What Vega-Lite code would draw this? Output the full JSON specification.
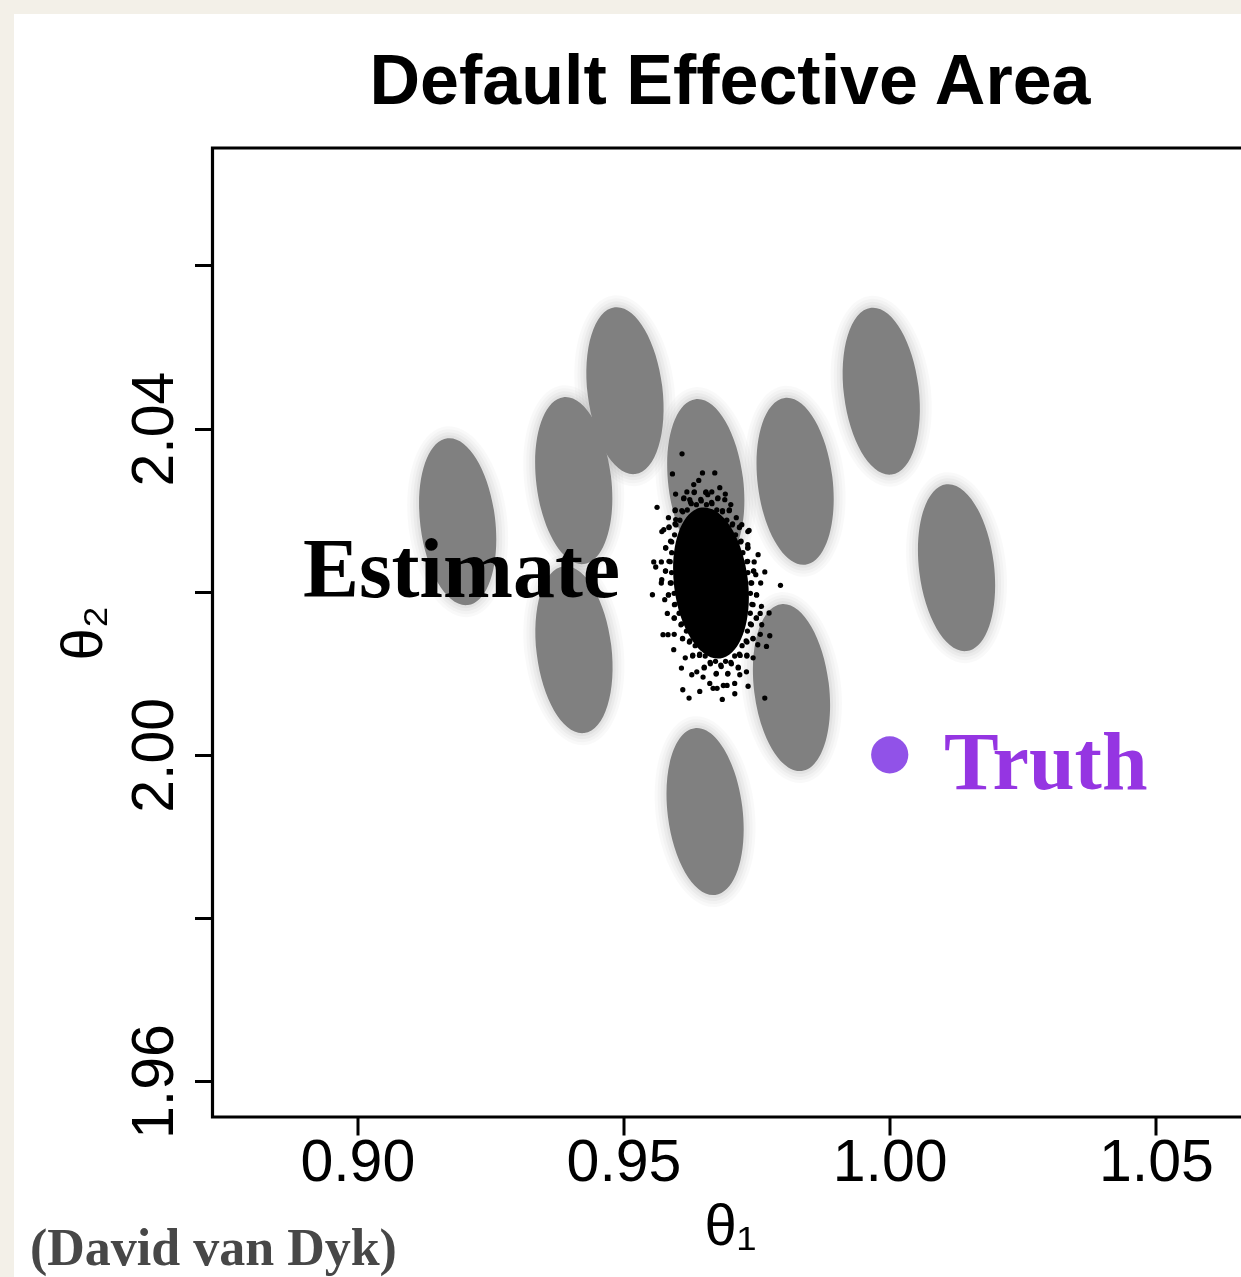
{
  "$schema": "https://vega.github.io/schema/vega-lite/v6.json",
  "width": 1035,
  "height": 969,
  "autosize": {"type": "none"},
  "padding": {"left": 212.5, "top": 148, "right": 0, "bottom": 160},
  "background": "white",
  "config": {
    "view": {"stroke": "black", "strokeWidth": 3.2, "fill": "white"},
    "axis": {"grid": false, "domain": false, "tickColor": "black", "tickWidth": 3, "tickSize": 18, "labelFont": "Liberation Sans", "labelFontSize": 59, "labelColor": "black", "labelOverlap": false, "labelFlush": false, "titleFont": "Liberation Sans", "titleFontSize": 58, "titleFontWeight": "normal", "titleColor": "black"}
  },
  "datasets": {
    "ellipses": [
      {"x": 0.91885, "y": 2.02859},
      {"x": 0.94065, "y": 2.03362},
      {"x": 0.95028, "y": 2.04464},
      {"x": 0.96545, "y": 2.03338},
      {"x": 0.98223, "y": 2.03354},
      {"x": 0.99842, "y": 2.04458},
      {"x": 1.01255, "y": 2.02295},
      {"x": 0.94070, "y": 2.01289},
      {"x": 0.98155, "y": 2.00825},
      {"x": 0.96532, "y": 1.99304}
    ],
    "core": [{"x": 0.96643, "y": 2.02107}],
    "truth": [{"x": 1.0, "y": 2.0}],
    "cloud": [
      {"x":0.97383,"y":2.01980},{"x":0.97381,"y":2.01736},{"x":0.97327,"y":2.01517},{"x":0.97227,"y":2.01338},
      {"x":0.97088,"y":2.01212},{"x":0.96917,"y":2.01147},{"x":0.96728,"y":2.01147},{"x":0.96534,"y":2.01212},
      {"x":0.96346,"y":2.01338},{"x":0.96181,"y":2.01517},{"x":0.96044,"y":2.01736},{"x":0.95950,"y":2.01980},
      {"x":0.95903,"y":2.02235},{"x":0.95905,"y":2.02479},{"x":0.95959,"y":2.02697},{"x":0.96059,"y":2.02876},
      {"x":0.96198,"y":2.03002},{"x":0.96369,"y":2.03067},{"x":0.96558,"y":2.03067},{"x":0.96752,"y":2.03002},
      {"x":0.96940,"y":2.02876},{"x":0.97105,"y":2.02697},{"x":0.97242,"y":2.02479},{"x":0.97336,"y":2.02235},
      {"x":0.97392,"y":2.02107},{"x":0.97411,"y":2.01846},{"x":0.97383,"y":2.01604},{"x":0.97303,"y":2.01396},
      {"x":0.97176,"y":2.01235},{"x":0.97016,"y":2.01135},{"x":0.96827,"y":2.01101},{"x":0.96627,"y":2.01135},
      {"x":0.96430,"y":2.01235},{"x":0.96246,"y":2.01396},{"x":0.96091,"y":2.01604},{"x":0.95969,"y":2.01846},
      {"x":0.95897,"y":2.02107},{"x":0.95877,"y":2.02368},{"x":0.95905,"y":2.02610},{"x":0.95985,"y":2.02819},
      {"x":0.96113,"y":2.02980},{"x":0.96273,"y":2.03080},{"x":0.96460,"y":2.03113},{"x":0.96661,"y":2.03080},
      {"x":0.96858,"y":2.02980},{"x":0.97041,"y":2.02819},{"x":0.97197,"y":2.02610},{"x":0.97318,"y":2.02368},
      {"x":0.97500,"y":2.01961},{"x":0.97495,"y":2.01676},{"x":0.97433,"y":2.01422},{"x":0.97316,"y":2.01212},
      {"x":0.97154,"y":2.01066},{"x":0.96957,"y":2.00990},{"x":0.96739,"y":2.00990},{"x":0.96514,"y":2.01066},
      {"x":0.96298,"y":2.01212},{"x":0.96108,"y":2.01422},{"x":0.95951,"y":2.01676},{"x":0.95843,"y":2.01961},
      {"x":0.95789,"y":2.02254},{"x":0.95792,"y":2.02539},{"x":0.95855,"y":2.02794},{"x":0.95971,"y":2.03002},
      {"x":0.96134,"y":2.03149},{"x":0.96330,"y":2.03225},{"x":0.96549,"y":2.03225},{"x":0.96773,"y":2.03149},
      {"x":0.96989,"y":2.03002},{"x":0.97180,"y":2.02794},{"x":0.97338,"y":2.02539},{"x":0.97446,"y":2.02254},
      {"x":0.97577,"y":2.02107},{"x":0.97569,"y":2.01478},{"x":0.97309,"y":2.01018},{"x":0.96875,"y":2.00850},
      {"x":0.96376,"y":2.01018},{"x":0.95952,"y":2.01478},{"x":0.95710,"y":2.02107},{"x":0.95720,"y":2.02737},
      {"x":0.95978,"y":2.03197},{"x":0.96413,"y":2.03365},{"x":0.96912,"y":2.03197},{"x":0.97335,"y":2.02737},
      {"x":0.97567,"y":2.01734},{"x":0.97088,"y":2.00875},{"x":0.96160,"y":2.01190},{"x":0.95711,"y":2.02365},
      {"x":0.96190,"y":2.03224},{"x":0.97118,"y":2.02908},{"x":0.97434,"y":2.01190},{"x":0.95823,"y":2.01734},
      {"x":0.96658,"y":2.03224},{"x":0.96620,"y":2.00875},{"x":0.95844,"y":2.02908},{"x":0.97454,"y":2.02365},
      {"x":0.96099,"y":2.03690},{"x":0.95919,"y":2.03444},{"x":0.96483,"y":2.03457},{"x":0.96714,"y":2.03457},
      {"x":0.95630,"y":2.03035},{"x":0.97358,"y":2.02752},{"x":0.97528,"y":2.02454},{"x":0.95568,"y":2.02365},
      {"x":0.95605,"y":2.02303},{"x":0.97653,"y":2.02242},{"x":0.97948,"y":2.02078},{"x":0.95543,"y":2.01963},
      {"x":0.97591,"y":2.01820},{"x":0.97734,"y":2.01739},{"x":0.95742,"y":2.01473},{"x":0.95836,"y":2.01473},
      {"x":0.97747,"y":2.01460},{"x":0.97685,"y":2.01329},{"x":0.96088,"y":2.01064},{"x":0.96494,"y":2.00954},
      {"x":0.96682,"y":2.00816},{"x":0.96757,"y":2.00816},{"x":0.96945,"y":2.00851},{"x":0.97340,"y":2.00841},
      {"x":0.96432,"y":2.00777},{"x":0.96231,"y":2.00696},{"x":0.96855,"y":2.00679},{"x":0.97653,"y":2.00696},
      {"x":0.96244,"y":2.03129},{"x":0.96582,"y":2.03190},{"x":0.96902,"y":2.03129},{"x":0.96319,"y":2.03313},
      {"x":0.96808,"y":2.03276},{"x":0.95756,"y":2.02761},{"x":0.95718,"y":2.02147},{"x":0.95774,"y":2.01902},
      {"x":0.95943,"y":2.01289},{"x":0.96282,"y":2.00982},{"x":0.97184,"y":2.00982},{"x":0.97522,"y":2.01350},
      {"x":0.97597,"y":2.01595},{"x":0.97484,"y":2.02209},{"x":0.97334,"y":2.02577},{"x":0.97221,"y":2.02822},
      {"x":0.97015,"y":2.03068},{"x":0.95981,"y":2.02884},{"x":0.96113,"y":2.00798},{"x":0.97090,"y":2.00749},
      {"x":0.97407,"y":2.02107},{"x":0.97432,"y":2.01841},{"x":0.97402,"y":2.01595},{"x":0.97319,"y":2.01382},
      {"x":0.97191,"y":2.01219},{"x":0.97026,"y":2.01116},{"x":0.96835,"y":2.01082},{"x":0.96632,"y":2.01116},
      {"x":0.96427,"y":2.01219},{"x":0.96237,"y":2.01382},{"x":0.96078,"y":2.01595},{"x":0.95956,"y":2.01841},
      {"x":0.95879,"y":2.02107},{"x":0.95854,"y":2.02372},{"x":0.95884,"y":2.02620},{"x":0.95967,"y":2.02832},
      {"x":0.96095,"y":2.02995},{"x":0.96260,"y":2.03096},{"x":0.96451,"y":2.03132},{"x":0.96654,"y":2.03096},
      {"x":0.96859,"y":2.02995},{"x":0.97049,"y":2.02832},{"x":0.97208,"y":2.02620},{"x":0.97332,"y":2.02372},
      {"x":0.97498,"y":2.01961},{"x":0.97494,"y":2.01679},{"x":0.97432,"y":2.01427},{"x":0.97317,"y":2.01221},
      {"x":0.97156,"y":2.01074},{"x":0.96960,"y":2.00999},{"x":0.96743,"y":2.00999},{"x":0.96517,"y":2.01074},
      {"x":0.96301,"y":2.01221},{"x":0.96110,"y":2.01427},{"x":0.95954,"y":2.01679},{"x":0.95845,"y":2.01961},
      {"x":0.95788,"y":2.02253},{"x":0.95792,"y":2.02535},{"x":0.95854,"y":2.02787},{"x":0.95969,"y":2.02993},
      {"x":0.96130,"y":2.03141},{"x":0.96326,"y":2.03215},{"x":0.96543,"y":2.03215},{"x":0.96769,"y":2.03141},
      {"x":0.96985,"y":2.02993},{"x":0.97176,"y":2.02787},{"x":0.97332,"y":2.02535},{"x":0.97441,"y":2.02253}
    ]
  },
  "layer": [
    {
      "data": {"values": [{}]},
      "mark": {"type": "rect", "fill": "#f3f0e8", "strokeWidth": 0},
      "encoding": {
        "x": {"datum": 0.83289, "type": "quantitative", "scale": {"domain": [0.8728, 1.0672], "nice": false, "zero": false}},
        "x2": {"datum": 0.83552},
        "y": {"datum": 1.93598, "type": "quantitative", "scale": {"domain": [1.9556, 2.0744], "nice": false, "zero": false}},
        "y2": {"datum": 2.09254}
      }
    },
    {
      "data": {"values": [{}]},
      "mark": {"type": "rect", "fill": "#f3f0e8", "strokeWidth": 0},
      "encoding": {
        "x": {"datum": 0.83289, "type": "quantitative", "scale": {"domain": [0.8728, 1.0672], "nice": false, "zero": false}},
        "x2": {"datum": 1.0672},
        "y": {"datum": 2.09083, "type": "quantitative", "scale": {"domain": [1.9556, 2.0744], "nice": false, "zero": false}},
        "y2": {"datum": 2.09254}
      }
    },
    {
      "data": {"name": "ellipses"},
      "mark": {"type": "point", "shape": "M0,-1A0.5156,1,0,1,1,0,1A0.5156,1,0,1,1,0,-1Z", "size": 36864, "angle": -7, "filled": true, "color": "black", "opacity": 0.022, "strokeWidth": 0},
      "encoding": {
        "x": {"field": "x", "type": "quantitative", "scale": {"domain": [0.8728, 1.0672], "nice": false, "zero": false}},
        "y": {"field": "y", "type": "quantitative", "scale": {"domain": [1.9556, 2.0744], "nice": false, "zero": false}}
      }
    },
    {
      "data": {"name": "ellipses"},
      "mark": {"type": "point", "shape": "M0,-1A0.5,1,0,1,1,0,1A0.5,1,0,1,1,0,-1Z", "size": 34596, "angle": -7, "filled": true, "color": "black", "opacity": 0.025, "strokeWidth": 0},
      "encoding": {
        "x": {"field": "x", "type": "quantitative", "scale": {"domain": [0.8728, 1.0672], "nice": false, "zero": false}},
        "y": {"field": "y", "type": "quantitative", "scale": {"domain": [1.9556, 2.0744], "nice": false, "zero": false}}
      }
    },
    {
      "data": {"name": "ellipses"},
      "mark": {"type": "point", "shape": "M0,-1A0.4833,1,0,1,1,0,1A0.4833,1,0,1,1,0,-1Z", "size": 32400, "angle": -7, "filled": true, "color": "black", "opacity": 0.03, "strokeWidth": 0},
      "encoding": {
        "x": {"field": "x", "type": "quantitative", "scale": {"domain": [0.8728, 1.0672], "nice": false, "zero": false}},
        "y": {"field": "y", "type": "quantitative", "scale": {"domain": [1.9556, 2.0744], "nice": false, "zero": false}}
      }
    },
    {
      "data": {"name": "ellipses"},
      "mark": {"type": "point", "shape": "M0,-1A0.4655,1,0,1,1,0,1A0.4655,1,0,1,1,0,-1Z", "size": 30276, "angle": -7, "filled": true, "color": "black", "opacity": 0.035, "strokeWidth": 0},
      "encoding": {
        "x": {"field": "x", "type": "quantitative", "scale": {"domain": [0.8728, 1.0672], "nice": false, "zero": false}},
        "y": {"field": "y", "type": "quantitative", "scale": {"domain": [1.9556, 2.0744], "nice": false, "zero": false}}
      }
    },
    {
      "data": {"name": "ellipses"},
      "mark": {"type": "point", "shape": "M0,-1A0.4464,1,0,1,1,0,1A0.4464,1,0,1,1,0,-1Z", "size": 28224, "angle": -7, "filled": true, "color": "#808080", "opacity": 1, "strokeWidth": 0},
      "encoding": {
        "x": {"field": "x", "type": "quantitative", "scale": {"domain": [0.8728, 1.0672], "nice": false, "zero": false},
          "axis": {"values": [0.9, 0.95, 1.0, 1.05], "format": ".2f", "title": "θ₁", "tickWidth": 3, "tickColor": "black", "labelBaseline": "alphabetic", "labelPadding": 45.5, "titleBaseline": "alphabetic", "titleAlign": "center", "titleX": 517.5, "titleY": 127, "zindex": 1}},
        "y": {"field": "y", "type": "quantitative", "scale": {"domain": [1.9556, 2.0744], "nice": false, "zero": false},
          "axis": {"values": [1.96, 1.98, 2.0, 2.02, 2.04, 2.06], "format": ".2f", "labelExpr": "(datum.value == 1.98 || datum.value == 2.02 || datum.value == 2.06) ? '' : datum.label", "title": "θ₂", "tickWidth": 3, "tickColor": "black", "labelAngle": 270, "labelAlign": "center", "labelBaseline": "alphabetic", "labelPadding": 22.5, "titleAngle": 270, "titleAlign": "center", "titleBaseline": "alphabetic", "titleX": -111.5, "titleY": 484.5, "zindex": 1}}
      }
    },
    {
      "data": {"name": "core"},
      "mark": {"type": "point", "shape": "M0,-1A0.487,1,0,1,1,0,1A0.487,1,0,1,1,0,-1Z", "size": 23104, "angle": -7, "filled": true, "color": "black", "opacity": 1, "strokeWidth": 0},
      "encoding": {
        "x": {"field": "x", "type": "quantitative", "scale": {"domain": [0.8728, 1.0672], "nice": false, "zero": false}},
        "y": {"field": "y", "type": "quantitative", "scale": {"domain": [1.9556, 2.0744], "nice": false, "zero": false}}
      }
    },
    {
      "data": {"name": "cloud"},
      "mark": {"type": "point", "shape": "circle", "size": 28, "filled": true, "color": "black", "opacity": 1, "strokeWidth": 0},
      "encoding": {
        "x": {"field": "x", "type": "quantitative", "scale": {"domain": [0.8728, 1.0672], "nice": false, "zero": false}},
        "y": {"field": "y", "type": "quantitative", "scale": {"domain": [1.9556, 2.0744], "nice": false, "zero": false}}
      }
    },
    {
      "data": {"name": "truth"},
      "mark": {"type": "point", "shape": "circle", "size": 1385, "filled": true, "color": "#9152e8", "opacity": 1, "strokeWidth": 0},
      "encoding": {
        "x": {"field": "x", "type": "quantitative", "scale": {"domain": [0.8728, 1.0672], "nice": false, "zero": false}},
        "y": {"field": "y", "type": "quantitative", "scale": {"domain": [1.9556, 2.0744], "nice": false, "zero": false}}
      }
    },
    {
      "data": {"values": [{}]},
      "mark": {"type": "text", "text": "Estimate", "font": "Liberation Serif", "fontWeight": "bold", "fontSize": 84, "color": "black", "align": "center", "baseline": "alphabetic"},
      "encoding": {
        "x": {"datum": 0.91957, "type": "quantitative", "scale": {"domain": [0.8728, 1.0672], "nice": false, "zero": false}},
        "y": {"datum": 2.01935, "type": "quantitative", "scale": {"domain": [1.9556, 2.0744], "nice": false, "zero": false}}
      }
    },
    {
      "data": {"values": [{}]},
      "mark": {"type": "text", "text": "Truth", "font": "Liberation Serif", "fontWeight": "bold", "fontSize": 82, "color": "#9535e2", "align": "left", "baseline": "alphabetic"},
      "encoding": {
        "x": {"datum": 1.01019, "type": "quantitative", "scale": {"domain": [0.8728, 1.0672], "nice": false, "zero": false}},
        "y": {"datum": 1.99578, "type": "quantitative", "scale": {"domain": [1.9556, 2.0744], "nice": false, "zero": false}}
      }
    },
    {
      "data": {"values": [{}]},
      "mark": {"type": "text", "text": "Default Effective Area", "font": "Liberation Sans", "fontWeight": "bold", "fontSize": 70, "color": "black", "align": "center", "baseline": "alphabetic"},
      "encoding": {
        "x": {"datum": 0.97, "type": "quantitative", "scale": {"domain": [0.8728, 1.0672], "nice": false, "zero": false}},
        "y": {"datum": 2.0798, "type": "quantitative", "scale": {"domain": [1.9556, 2.0744], "nice": false, "zero": false}}
      }
    },
    {
      "data": {"values": [{}]},
      "mark": {"type": "text", "text": "(David van Dyk)", "font": "Liberation Serif", "fontWeight": "bold", "fontSize": 52, "color": "#474747", "align": "left", "baseline": "alphabetic"},
      "encoding": {
        "x": {"datum": 0.83852, "type": "quantitative", "scale": {"domain": [0.8728, 1.0672], "nice": false, "zero": false}},
        "y": {"datum": 1.93746, "type": "quantitative", "scale": {"domain": [1.9556, 2.0744], "nice": false, "zero": false}}
      }
    }
  ]
}
